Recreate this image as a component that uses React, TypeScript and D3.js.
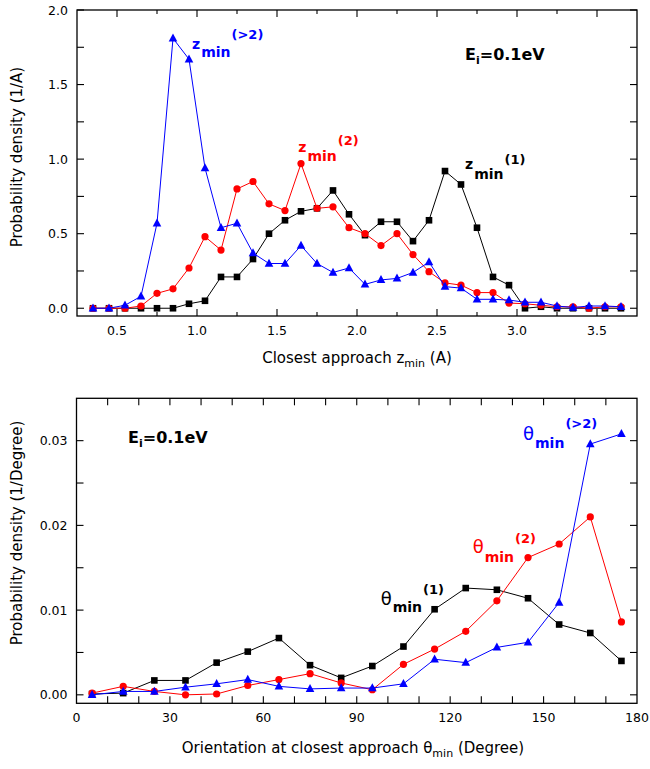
import React from "react";
import * as d3 from "d3";

// ---- Data (top panel: closest approach z_min) ----
const zX = [0.35, 0.45, 0.55, 0.65, 0.75, 0.85, 0.95, 1.05, 1.15, 1.25, 1.35, 1.45, 1.55, 1.65, 1.75, 1.85, 1.95,
  2.05, 2.15, 2.25, 2.35, 2.45, 2.55, 2.65, 2.75, 2.85, 2.95, 3.05, 3.15, 3.25, 3.35, 3.45, 3.55, 3.65];
const z1 = [0, 0, 0, 0, 0, 0, 0.03, 0.05, 0.21, 0.21, 0.33, 0.5, 0.59, 0.65, 0.67, 0.79, 0.63,
  0.49, 0.58, 0.58, 0.45, 0.59, 0.92, 0.83, 0.54, 0.21, 0.155, 0, 0.01, 0, 0, 0, 0, 0];
const z2 = [0, 0, 0, 0.015, 0.1, 0.13, 0.27, 0.48, 0.39, 0.8, 0.85, 0.7, 0.655, 0.97, 0.67, 0.68, 0.54,
  0.5, 0.42, 0.5, 0.36, 0.245, 0.17, 0.155, 0.105, 0.105, 0.035, 0.03, 0.02, 0.01, 0.01, 0, 0.01, 0.01];
const z3 = [0, 0, 0.02, 0.08, 0.57, 1.81, 1.67, 0.94, 0.54, 0.57, 0.37, 0.3, 0.3, 0.42, 0.3, 0.24, 0.27,
  0.16, 0.19, 0.2, 0.24, 0.31, 0.145, 0.135, 0.06, 0.06, 0.055, 0.04, 0.04, 0.015, 0.005, 0.015, 0.015, 0.01];

// ---- Data (bottom panel: orientation theta_min) ----
const tX = [5, 15, 25, 35, 45, 55, 65, 75, 85, 95, 105, 115, 125, 135, 145, 155, 165, 175];
const t1 = [0.0001, 0.0002, 0.0017, 0.0017, 0.0038, 0.0051, 0.0067, 0.0035, 0.002, 0.0034, 0.0057, 0.0101, 0.0126, 0.0124, 0.0114, 0.0083, 0.0073, 0.004];
const t2 = [0.0002, 0.001, 0.0004, 0.0, 0.0001, 0.0011, 0.0018, 0.0025, 0.0014, 0.0006, 0.0036, 0.0054, 0.0075, 0.0111, 0.0162, 0.0178, 0.021, 0.0086];
const t3 = [0.0, 0.0004, 0.0004, 0.0009, 0.0013, 0.0018, 0.001, 0.0007, 0.0008, 0.0008, 0.0013, 0.0042, 0.0038, 0.0056, 0.0062, 0.0109, 0.0296, 0.0308];

// ---- Tick definitions ----
const zMajorX = [0.5, 1.0, 1.5, 2.0, 2.5, 3.0, 3.5];
const zMinorX = [0.75, 1.25, 1.75, 2.25, 2.75, 3.25];
const zTickY = [0, 0.25, 0.5, 0.75, 1.0, 1.25, 1.5, 1.75, 2.0];
const zLabelY = [0, 0.5, 1.0, 1.5, 2.0];
const tTickX = [10, 20, 30, 40, 50, 60, 70, 80, 90, 100, 110, 120, 130, 140, 150, 160, 170];
const tLabelX = [0, 30, 60, 90, 120, 150, 180];
const tTickY = [0, 0.005, 0.01, 0.015, 0.02, 0.025, 0.03];
const tLabelY = [0, 0.01, 0.02, 0.03];

const BLACK = "#000000";
const RED = "#ff0000";
const BLUE = "#0000ff";
const FONT = "DejaVu Sans, Arial, sans-serif";

type Shape = "square" | "circle" | "triangle";

function Marker({ x, y, shape, color }: { x: number; y: number; shape: Shape; color: string }) {
  if (shape === "square") return <rect x={x - 3.3} y={y - 3.3} width={6.6} height={6.6} fill={color} />;
  if (shape === "circle") return <circle cx={x} cy={y} r={3.6} fill={color} />;
  const h = 8;
  return <path d={`M${x},${y - h * 0.6} L${x + 4.3},${y + h * 0.4} L${x - 4.3},${y + h * 0.4} Z`} fill={color} />;
}

function Series({ xs, ys, sx, sy, color, shape }: any) {
  const line = d3.line<number>().x((_, i) => sx(xs[i])).y((d) => sy(d));
  return (
    <g>
      <path d={line(ys) || ""} fill="none" stroke={color} strokeWidth={1} />
      {ys.map((v: number, i: number) => (
        <Marker key={i} x={sx(xs[i])} y={sy(v)} shape={shape} color={color} />
      ))}
    </g>
  );
}

function Frame({ sx, sy, majorX, minorX, ticksY, labelsX, labelsY, fmtX, fmtY, labelBaseline }: any) {
  const [x0, x1] = sx.range();
  const [y0, y1] = sy.range(); // y0 bottom, y1 top
  const M = 7, m = 4;
  return (
    <g>
      {majorX.map((v: number, i: number) => (
        <g key={"mx" + i}>
          <line x1={sx(v)} x2={sx(v)} y1={y0} y2={y0 - M} stroke="#000" strokeWidth={1.1} />
          <line x1={sx(v)} x2={sx(v)} y1={y1} y2={y1 + M} stroke="#000" strokeWidth={1.1} />
        </g>
      ))}
      {minorX.map((v: number, i: number) => (
        <g key={"nx" + i}>
          <line x1={sx(v)} x2={sx(v)} y1={y0} y2={y0 - m} stroke="#000" strokeWidth={1.1} />
          <line x1={sx(v)} x2={sx(v)} y1={y1} y2={y1 + m} stroke="#000" strokeWidth={1.1} />
        </g>
      ))}
      {ticksY.map((v: number, i: number) => (
        <g key={"ty" + i}>
          <line x1={x0} x2={x0 + M} y1={sy(v)} y2={sy(v)} stroke="#000" strokeWidth={1.1} />
          <line x1={x1} x2={x1 - M} y1={sy(v)} y2={sy(v)} stroke="#000" strokeWidth={1.1} />
        </g>
      ))}
      <rect x={x0} y={y1} width={x1 - x0} height={y0 - y1} fill="none" stroke="#000" strokeWidth={1.3} />
      {labelsX.map((v: number, i: number) => (
        <text key={"lx" + i} x={sx(v)} y={labelBaseline} textAnchor="middle" fontSize={12.5} fontFamily={FONT}>
          {fmtX(v)}
        </text>
      ))}
      {labelsY.map((v: number, i: number) => (
        <text key={"ly" + i} x={x0 - 9} y={sy(v) + 4.5} textAnchor="end" fontSize={12.5} fontFamily={FONT}>
          {fmtY(v)}
        </text>
      ))}
    </g>
  );
}

function SubLabel({ x, y, main, mainSize, mainWeight, subY, supY, sup, color }: any) {
  return (
    <text x={x} fill={color} fontFamily={FONT}>
      <tspan y={y} fontSize={mainSize} fontWeight={mainWeight}>{main}</tspan>
      <tspan y={subY} dx={1} fontSize={14} fontWeight="bold">min</tspan>
      <tspan y={supY} dx={1} fontSize={13} fontWeight="bold">{sup}</tspan>
    </text>
  );
}

export default function App() {
  const sxT = d3.scaleLinear().domain([0.25, 3.75]).range([77, 637]);
  const syT = d3.scaleLinear().domain([-0.052, 2.0]).range([316, 10]);
  const sxB = d3.scaleLinear().domain([0, 180]).range([76.5, 637]);
  const syB = d3.scaleLinear().domain([-0.001, 0.035]).range([703.3, 398.3]);
  const f1 = d3.format(".1f");
  const f2 = d3.format(".2f");
  const f0 = d3.format("d");

  return (
    <svg width={650} height={769} style={{ position: "absolute", left: 0, top: 0, background: "#fff" }}>
      <rect x={0} y={0} width={650} height={769} fill="#fff" />
      {/* Top panel */}
      <Frame sx={sxT} sy={syT} majorX={zMajorX} minorX={zMinorX} ticksY={zTickY} labelsX={zMajorX} labelsY={zLabelY}
        fmtX={f1} fmtY={f1} labelBaseline={335} />
      <Series xs={zX} ys={z1} sx={sxT} sy={syT} color={BLACK} shape="square" />
      <Series xs={zX} ys={z2} sx={sxT} sy={syT} color={RED} shape="circle" />
      <Series xs={zX} ys={z3} sx={sxT} sy={syT} color={BLUE} shape="triangle" />
      <SubLabel x={192} y={49.3} subY={57} supY={39} main="z" mainSize={14} mainWeight="bold" sup="(>2)" color={BLUE} />
      <SubLabel x={298.3} y={151.7} subY={161} supY={145} main="z" mainSize={14} mainWeight="bold" sup="(2)" color={RED} />
      <SubLabel x={465} y={169.3} subY={178.5} supY={164} main="z" mainSize={14} mainWeight="bold" sup="(1)" color={BLACK} />
      <text x={465} fontFamily={FONT} fontWeight="bold" fontSize={16}>
        <tspan y={60}>E</tspan><tspan y={64} fontSize={11}>i</tspan><tspan y={60}>=0.1eV</tspan>
      </text>
      <text x={357} y={363} textAnchor="middle" fontFamily={FONT} fontSize={15}>
        <tspan>Closest approach z</tspan><tspan dy={4} fontSize={11}>min</tspan><tspan dy={-4}> (A)</tspan>
      </text>
      <text transform="translate(22,157) rotate(-90)" textAnchor="middle" fontFamily={FONT} fontSize={15}>
        Probability density (1/A)
      </text>

      {/* Bottom panel */}
      <Frame sx={sxB} sy={syB} majorX={tTickX} minorX={[]} ticksY={tTickY} labelsX={tLabelX} labelsY={tLabelY}
        fmtX={f0} fmtY={f2} labelBaseline={722} />
      <Series xs={tX} ys={t1} sx={sxB} sy={syB} color={BLACK} shape="square" />
      <Series xs={tX} ys={t2} sx={sxB} sy={syB} color={RED} shape="circle" />
      <Series xs={tX} ys={t3} sx={sxB} sy={syB} color={BLUE} shape="triangle" />
      <SubLabel x={523} y={440} subY={447.7} supY={428} main="θ" mainSize={18} mainWeight="normal" sup="(>2)" color={BLUE} />
      <SubLabel x={472.7} y={553} subY={561.7} supY={543} main="θ" mainSize={18} mainWeight="normal" sup="(2)" color={RED} />
      <SubLabel x={380.7} y={605} subY={611.7} supY={594} main="θ" mainSize={18} mainWeight="normal" sup="(1)" color={BLACK} />
      <text x={128} fontFamily={FONT} fontWeight="bold" fontSize={16}>
        <tspan y={443}>E</tspan><tspan y={447} fontSize={11}>i</tspan><tspan y={443}>=0.1eV</tspan>
      </text>
      <text x={353} y={753} textAnchor="middle" fontFamily={FONT} fontSize={15}>
        <tspan>Orientation at closest approach θ</tspan><tspan dy={4} fontSize={11}>min</tspan><tspan dy={-4}> (Degree)</tspan>
      </text>
      <text transform="translate(22,533) rotate(-90)" textAnchor="middle" fontFamily={FONT} fontSize={15}>
        Probability density (1/Degree)
      </text>
    </svg>
  );
}
